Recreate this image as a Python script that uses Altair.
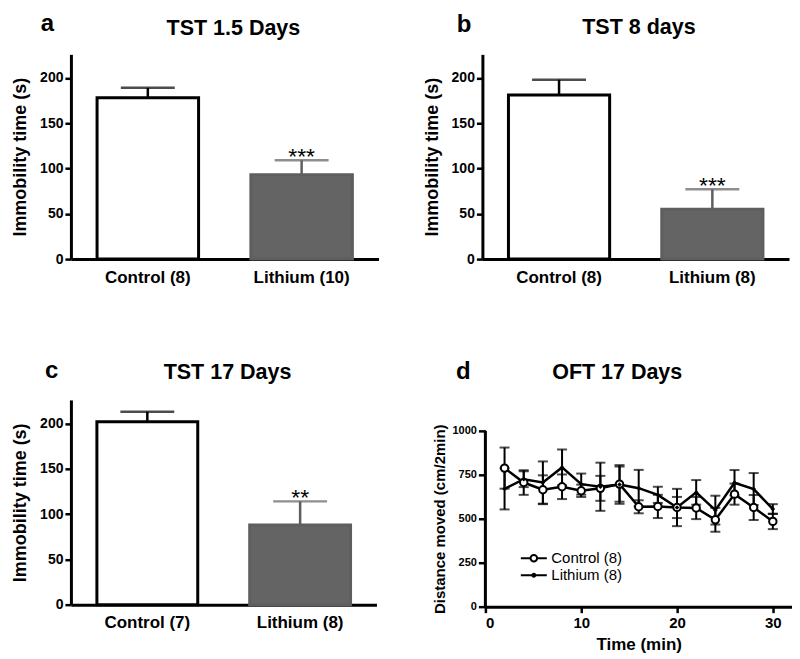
import altair as alt
import pandas as pd

FONT = "Liberation Sans"

# ---------------- data ----------------
# Panel a: TST 1.5 Days
a_groups = ["Control (8)", "Lithium (10)"]
a_means = [178, 93]
a_sems = [11, 16]
a_stars = ["", "***"]

# Panel b: TST 8 days
b_groups = ["Control (8)", "Lithium (8)"]
b_means = [181, 55]
b_sems = [17, 22]
b_stars = ["", "***"]

# Panel c: TST 17 Days
c_groups = ["Control (7)", "Lithium (8)"]
c_means = [202, 88]
c_sems = [11, 26]
c_stars = ["", "**"]

bar_kinds = ["Control", "Lithium"]
bar_yticks = [0, 50, 100, 150, 200]

# Panel d: OFT 17 Days
d_times = [2, 4, 6, 8, 10, 12, 14, 16, 18, 20, 22, 24, 26, 28, 30]
d_control_mean = [788, 706, 665, 682, 659, 673, 697, 568, 570, 564, 561, 494, 640, 564, 485]
d_control_sem = [117, 70, 82, 70, 35, 71, 100, 37, 66, 106, 63, 68, 60, 71, 44]
d_lithium_mean = [670, 725, 706, 792, 697, 682, 695, 674, 636, 564, 650, 549, 705, 669, 555]
d_lithium_sem = [117, 45, 120, 102, 60, 137, 110, 104, 46, 60, 70, 82, 72, 91, 28]
d_series = ["Control (8)", "Lithium (8)"]
d_xticks = [0, 10, 20, 30]
d_yticks = [0, 250, 500, 750, 1000]


def label_layer(text, x, y, size):
    return alt.Chart(pd.DataFrame({"t": [text]})).mark_text(
        font=FONT, fontSize=size, fontWeight="bold", color="black",
        align="center", baseline="alphabetic"
    ).encode(x=alt.value(x), y=alt.value(y), text="t:N")


def bar_panel(groups, means, sems, stars, title, letter, width,
              letter_xy, title_xy):
    df = pd.DataFrame({"group": groups, "mean": means, "sem": sems,
                       "stars": stars, "kind": bar_kinds})
    df["top"] = df["mean"] + df["sem"]
    base = alt.Chart(df)
    x = alt.X("group:N", sort=groups, title=None,
              scale=alt.Scale(paddingInner=0.34, paddingOuter=0.17),
              axis=alt.Axis(labelAngle=0, ticks=False, labelPadding=10,
                            labelFontSize=17, labelFontWeight="bold",
                            labelFont=FONT, labelColor="black",
                            domainWidth=3, domainColor="black"))
    ytitle = "Immobility time (s)"
    y_axis = alt.Axis(values=bar_yticks, tickSize=6, tickWidth=2.5,
                      tickColor="black", labelFontSize=14,
                      labelFontWeight="bold", labelFont=FONT,
                      labelColor="black", labelPadding=2,
                      domainWidth=3, domainColor="black", grid=False,
                      titleFontSize=18, titleFontWeight="bold",
                      titleFont=FONT, titleColor="black", titlePadding=10)
    yscale = alt.Scale(domain=[0, 226], nice=False)
    stroke_scale = alt.Scale(domain=bar_kinds, range=["black", "#5e5e5e"])
    bars = base.mark_bar(strokeWidth=3).encode(
        x=x,
        y=alt.Y("mean:Q", title=ytitle, scale=yscale, axis=y_axis),
        fill=alt.Fill("kind:N", scale=alt.Scale(domain=bar_kinds,
                                                range=["white", "#646464"]),
                      legend=None),
        stroke=alt.Stroke("kind:N", scale=stroke_scale, legend=None),
    )
    err = base.mark_rule(strokeWidth=2.5).encode(
        x=x,
        y=alt.Y("mean:Q", title=ytitle),
        y2="top:Q",
        stroke=alt.Stroke("kind:N", scale=stroke_scale, legend=None),
    )
    cap = base.mark_tick(size=54, thickness=2.5).encode(
        x=x,
        y=alt.Y("top:Q", title=ytitle),
        color=alt.Color("kind:N", scale=stroke_scale, legend=None),
    )
    star = base.mark_text(font=FONT, fontSize=23, baseline="alphabetic",
                          dy=4, color="black").encode(
        x=x, y=alt.Y("top:Q", title=ytitle), text="stars:N")
    let = label_layer(letter, letter_xy[0], letter_xy[1], 24)
    tit = label_layer(title, title_xy[0], title_xy[1], 21.5)
    return alt.layer(bars, err, cap, star, let, tit).properties(
        width=width, height=205)


pa = bar_panel(a_groups, a_means, a_sems, a_stars, "TST 1.5 Days", "a",
               308, (-23.5, -23), (162.7, -19))
pb = bar_panel(b_groups, b_means, b_sems, b_stars, "TST 8 days", "b",
               307, (-18.3, -22), (156.7, -20))
pc = bar_panel(c_groups, c_means, c_sems, c_stars, "TST 17 Days", "c",
               306, (-19.3, -22), (156.8, -21))

# ---------------- panel d ----------------
rows = []
for s, ms, es in [(d_series[0], d_control_mean, d_control_sem),
                  (d_series[1], d_lithium_mean, d_lithium_sem)]:
    for t, m, e in zip(d_times, ms, es):
        rows.append({"time": t, "series": s, "mean": m,
                     "lo": m - e, "hi": m + e})
dd = pd.DataFrame(rows)

dytitle = "Distance moved (cm/2min)"
xd = alt.X("time:Q", title="Time (min)",
           scale=alt.Scale(domain=[0, 32], nice=False),
           axis=alt.Axis(values=d_xticks, tickSize=6, tickWidth=2.5,
                         tickColor="black", labelFontSize=15,
                         labelFontWeight="bold", labelFont=FONT,
                         labelColor="black", labelPadding=3,
                         domainWidth=3, domainColor="black", grid=False,
                         titleFontSize=17, titleFontWeight="bold",
                         titleFont=FONT, titleColor="black",
                         titlePadding=6))
yd_scale = alt.Scale(domain=[0, 1176], nice=False)
yd = alt.Y("mean:Q", title=dytitle, scale=yd_scale,
           axis=alt.Axis(values=d_yticks, format="d", tickSize=7,
                         tickWidth=2.5, tickColor="black", labelFontSize=11,
                         labelFontWeight="bold", labelFont=FONT,
                         labelColor="black", labelPadding=2,
                         domain=False, grid=False,
                         titleFontSize=15, titleFontWeight="bold",
                         titleFont=FONT, titleColor="black",
                         titlePadding=4, titleY=119))

dbase = alt.Chart(dd)
y_axis_line = alt.Chart(pd.DataFrame({"y0": [0], "y1": [1000]})).mark_rule(
    strokeWidth=3, color="black").encode(
    x=alt.value(0), y=alt.Y("y0:Q", title=dytitle), y2="y1:Q")
d_lines = dbase.mark_line(color="black", strokeWidth=2.5).encode(
    x=xd, y=yd, detail="series:N")
d_err = dbase.mark_rule(color="black", strokeWidth=2).encode(
    x="time:Q", y=alt.Y("lo:Q", title=dytitle), y2="hi:Q")
d_cap_hi = dbase.mark_tick(orient="horizontal", size=10, thickness=2,
                           color="black").encode(
    x="time:Q", y=alt.Y("hi:Q", title=dytitle))
d_cap_lo = dbase.mark_tick(orient="horizontal", size=10, thickness=2,
                           color="black").encode(
    x="time:Q", y=alt.Y("lo:Q", title=dytitle))
d_pts_c = dbase.transform_filter(
    alt.datum.series == d_series[0]).mark_point(
    shape="circle", filled=True, fill="white", stroke="black",
    strokeWidth=2, size=55, opacity=1).encode(
    x="time:Q", y=alt.Y("mean:Q", title=dytitle))
d_pts_l = dbase.transform_filter(
    alt.datum.series == d_series[1]).mark_point(
    shape="diamond", filled=True, color="black", size=22, opacity=1).encode(
    x="time:Q", y=alt.Y("mean:Q", title=dytitle))

path_c = "M-2.6,0H-0.65M0.65,0H2.6M-0.65,0A0.65,0.65,0,1,1,0.65,0A0.65,0.65,0,1,1,-0.65,0"
path_l = "M-2.6,0H2.6M-0.3,0A0.3,0.3,0,1,1,0.3,0A0.3,0.3,0,1,1,-0.3,0"
d_legend = dbase.transform_filter("false").mark_point(
    filled=False, color="black", strokeWidth=2, opacity=1).encode(
    x="time:Q", y=alt.Y("mean:Q", title=dytitle),
    shape=alt.Shape("series:N",
                    scale=alt.Scale(domain=d_series, range=[path_c, path_l]),
                    legend=alt.Legend(title=None, orient="none",
                                      legendX=456, legendY=497, padding=0,
                                      symbolSize=100, symbolStrokeWidth=2,
                                      symbolStrokeColor="black",
                                      symbolOpacity=1,
                                      labelFont=FONT, labelFontSize=15,
                                      labelColor="black", labelOffset=10,
                                      rowPadding=1)))
d_letter = label_layer("d", -22, -21, 24)
d_title = label_layer("OFT 17 Days", 132, -21, 21.5)

pd_panel = alt.layer(y_axis_line, d_lines, d_err, d_cap_hi, d_cap_lo,
                     d_pts_c, d_pts_l, d_legend, d_letter, d_title).properties(
    width=307, height=207)

row1 = alt.hconcat(pa, pb, spacing=44)
row2 = alt.hconcat(pc, pd_panel, spacing=56)
chart = alt.vconcat(row1, row2, spacing=74, background="white",
                    padding={"left": 3, "top": 4, "right": 0, "bottom": 0}
                    ).configure_view(stroke="transparent", strokeWidth=0)

chart.save("out.html", embed_options={"renderer": "svg", "actions": False})
